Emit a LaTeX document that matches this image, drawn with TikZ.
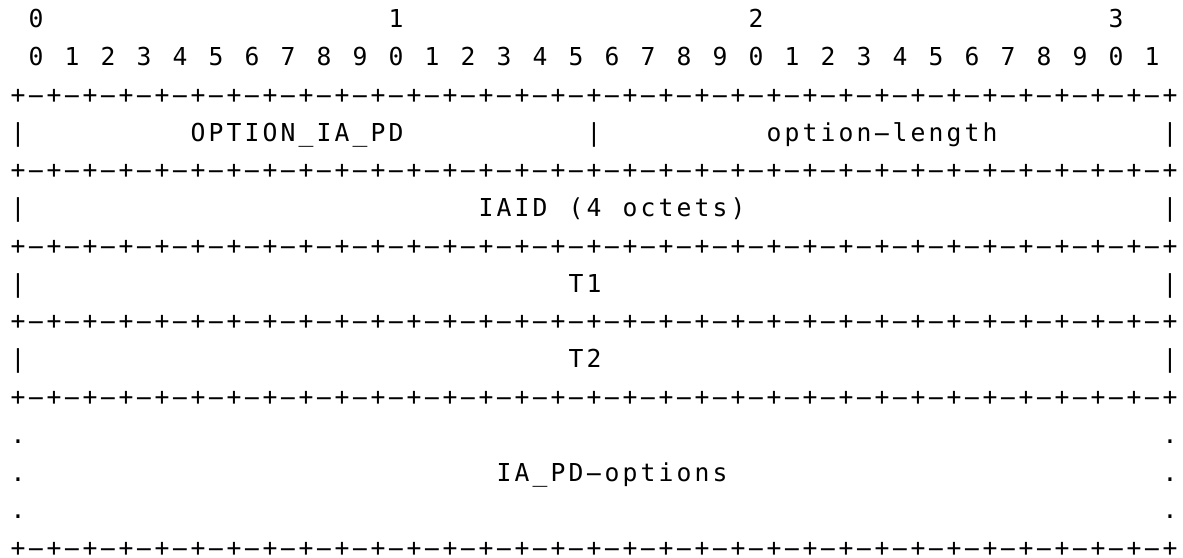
\documentclass[tikz,border=0pt]{standalone}
\usepackage{fontspec}
\newfontfamily\asciifont{DejaVu Sans Mono}
\usetikzlibrary{calc}
\def\cw{18}
\def\lh{37.75}
\def\us{\char"5F\relax}
\tikzset{glyph/.style={inner sep=0pt, anchor=base, font=\asciifont\fontsize{24.7bp}{30bp}\selectfont},
	wideglyph/.style={glyph, xscale=2.2, transform shape}}
\def\asciich(#1,#2)#3#4{\node[glyph] (#3) at ({18+(#2)*\cw}, {-(28+(#1)*\lh)}) {#4};}
\def\asciidash(#1,#2)#3{\node[wideglyph] (#3) at ({18+(#2)*\cw}, {-(28+(#1)*\lh)}) {-};}
\makeatletter
\def\asciiword(#1,#2)#3#4{\def\aw@row{#1}\def\aw@col{#2}\def\aw@name{#3}\aw@next#4\@nil}
\def\aw@next#1{\ifx#1\@nil\else
	\ifx#1-\asciidash(\aw@row,\aw@col){\aw@name-\aw@col}\else\asciich(\aw@row,\aw@col){\aw@name-\aw@col}{#1}\fi
	\pgfmathtruncatemacro\aw@col{\aw@col+1}%
	\expandafter\aw@next\fi}
\makeatother

\begin{document}
\begin{tikzpicture}[x=1bp, y=1bp]
		%%%%% START %%%%%
		\useasboundingbox (0, 0) rectangle (1183, -558);
		
		\foreach \d in {0,...,3}
			\asciich(0,20*\d+1){top\d}{\d};
		\foreach \b in {0,...,31} {
			\pgfmathtruncatemacro\digit{mod(\b,10)}
			\asciich(1,2*\b+1){bit\b}{\digit}
		}
		
		\foreach \r in {2,4,6,8,10,14}
			\foreach \c in {0,...,64} {
				\ifodd\c \asciidash(\r,\c){b\r-\c}\else \asciich(\r,\c){b\r-\c}{+}\fi
			}
		
		\foreach \r in {3,5,7,9} {
			\asciich(\r,0){l\r}{|}
			\asciich(\r,64){r\r}{|}
		}
		\asciich(3,32){mid}{|}
		
		\foreach \r in {11,12,13} {
			\asciich(\r,0){l\r}{.}
			\asciich(\r,64){r\r}{.}
		}
		
		\asciiword(3,10){code}{OPTION\us IA\us PD}
		\asciiword(3,42){len}{option-length}
		\asciiword(5,26){iaid}{IAID}
		\asciiword(5,31){four}{(4}
		\asciiword(5,34){octets}{octets)}
		\asciiword(7,31){tone}{T1}
		\asciiword(9,31){ttwo}{T2}
		\asciiword(12,27){opts}{IA\us PD-options}
		
		%%%%% END %%%%%
	\end{tikzpicture}
\end{document}
